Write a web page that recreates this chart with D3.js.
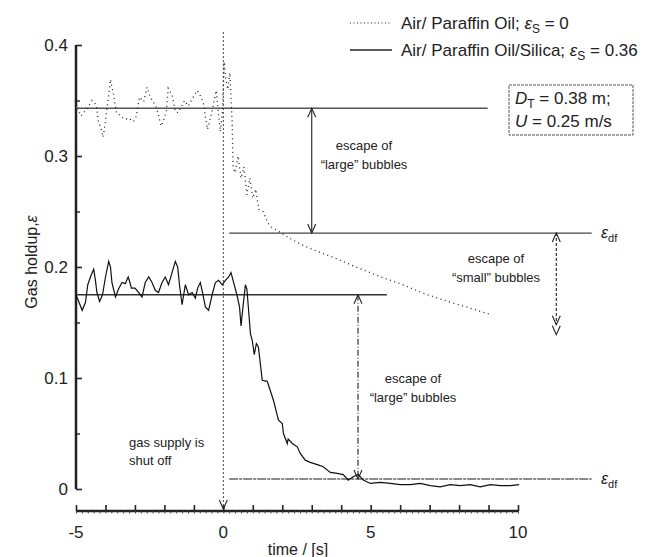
<!DOCTYPE html>
<html>
<head>
<meta charset="utf-8">
<script src="https://cdn.jsdelivr.net/npm/d3@7"></script>
<style>
  body { margin: 0; background: #fff; }
  svg { font-family: "Liberation Sans", Arial, sans-serif; }
  .small { font-size: 13px; }
</style>
</head>
<body>
<svg id="chart" width="662" height="557"></svg>
<script>
// Air / paraffin oil (dotted)
var dotT = [-4.95, -4.83, -4.62, -4.46, -4.31, -4.24, -4.15, -4.08, -4.0, -3.9, -3.83, -3.78, -3.73, -3.63, -3.47, -3.36, -3.2, -3.05, -2.95, -2.85, -2.7, -2.59, -2.5, -2.42, -2.31, -2.21, -2.11, -2.04, -1.93, -1.87, -1.74, -1.63, -1.53, -1.32, -1.19, -1.02, -0.89, -0.81, -0.68, -0.59, -0.54, -0.42, -0.31, -0.24, -0.17, -0.1, -0.03,
            0.03, 0.08, 0.15, 0.22, 0.3, 0.33, 0.4, 0.5, 0.6, 0.7, 0.8, 0.9, 1.0, 1.1, 1.2, 1.35, 1.5, 1.63, 2.0, 2.51, 3.0, 3.8, 4.5, 5.36, 6.0, 6.82, 7.5, 8.25, 9.09];
var dotV = [0.343, 0.336, 0.343, 0.35, 0.346, 0.331, 0.325, 0.317, 0.331, 0.353, 0.369, 0.362, 0.356, 0.339, 0.336, 0.333, 0.334, 0.331, 0.336, 0.353, 0.349, 0.362, 0.355, 0.35, 0.346, 0.338, 0.327, 0.331, 0.341, 0.361, 0.355, 0.34, 0.339, 0.35, 0.345, 0.353, 0.359, 0.356, 0.348, 0.332, 0.324, 0.336, 0.35, 0.359, 0.339, 0.322, 0.34,
            0.385, 0.37, 0.36, 0.375, 0.33, 0.29, 0.285, 0.30, 0.28, 0.29, 0.265, 0.28, 0.262, 0.27, 0.252, 0.25, 0.24, 0.236, 0.23, 0.222, 0.216, 0.208, 0.2, 0.191, 0.185, 0.176, 0.17, 0.164, 0.157];

// Air / paraffin oil / silica (solid)
var solT = [-5.0, -4.79, -4.68, -4.6, -4.51, -4.4, -4.34, -4.29, -4.2, -4.1, -4.0, -3.89, -3.83, -3.78, -3.66, -3.56, -3.44, -3.33, -3.23, -3.17, -3.12, -3.0, -2.87, -2.76, -2.65, -2.53, -2.42, -2.31, -2.2, -2.08, -1.97, -1.86, -1.74, -1.63, -1.55, -1.48, -1.4, -1.29, -1.18, -1.06, -0.95, -0.87, -0.78, -0.69, -0.61, -0.5, -0.38, -0.27, -0.16, -0.04,
            0.07, 0.18, 0.26, 0.35, 0.46, 0.55, 0.6, 0.67, 0.75, 0.8, 0.86, 0.92, 0.98, 1.05, 1.12, 1.19, 1.32, 1.49, 1.59, 1.7, 1.87, 2.0, 2.04, 2.17, 2.2, 2.34, 2.51, 2.61, 2.78, 2.95, 3.19, 3.39, 3.63, 3.87, 4.07, 4.24, 4.41, 4.58, 4.75, 4.99, 5.33, 5.67, 6.0, 6.35, 6.68, 7.02, 7.36, 7.7, 8.04, 8.38, 8.72, 9.06, 9.4, 9.74, 10.04];
var solV = [0.175, 0.161, 0.168, 0.184, 0.191, 0.198, 0.188, 0.177, 0.169, 0.175, 0.191, 0.205, 0.2, 0.186, 0.173, 0.18, 0.186, 0.185, 0.191, 0.186, 0.181, 0.181, 0.177, 0.173, 0.186, 0.191, 0.186, 0.179, 0.177, 0.186, 0.191, 0.184, 0.195, 0.205, 0.2, 0.182, 0.166, 0.184, 0.175, 0.177, 0.172, 0.181, 0.186, 0.175, 0.164, 0.161, 0.175, 0.186, 0.188, 0.184,
            0.188, 0.191, 0.195, 0.186, 0.175, 0.164, 0.147, 0.165, 0.184, 0.18, 0.16, 0.14, 0.134, 0.121, 0.131, 0.128, 0.098, 0.097, 0.089, 0.08, 0.062, 0.059, 0.05, 0.041, 0.045, 0.041, 0.038, 0.032, 0.026, 0.024, 0.022, 0.02, 0.015, 0.014, 0.013, 0.008, 0.011, 0.013, 0.008, 0.005, 0.006, 0.005, 0.004, 0.004, 0.005, 0.003, 0.002, 0.004, 0.003, 0.004, 0.002, 0.004, 0.003, 0.003, 0.004];

var yTicks = [0, 0.1, 0.2, 0.3, 0.4];
var yTickLabels = ["0", "0.1", "0.2", "0.3", "0.4"];
var yMinor = [0.05, 0.15, 0.25, 0.35];
var xTicks = [-5, 0, 5, 10];

// reference levels
var meanOil = 0.343, meanSilica = 0.175;
var dfOil = 0.2306, dfSilica = 0.009;

var svg = d3.select("#chart");
var x = d3.scaleLinear().domain([-5, 10]).range([76, 518]);
var y = d3.scaleLinear().domain([0, 0.4]).range([489, 45]);
var ink = "#222";

// y axis
var yAxis = d3.axisRight(y).tickValues(yTicks).tickSize(6).tickFormat("");
var gy = svg.append("g").attr("transform", "translate(" + x(-5) + ",0)").call(yAxis);
gy.select(".domain").attr("stroke", ink).attr("stroke-width", 2.5).attr("d", "M0," + y(0) + "V" + y(0.4));
gy.selectAll(".tick line").attr("stroke", ink).attr("stroke-width", 1.6);
var gyMinor = svg.append("g").attr("transform", "translate(" + x(-5) + ",0)")
  .call(d3.axisRight(y).tickValues(yMinor).tickSize(4).tickFormat(""));
gyMinor.select(".domain").remove();
gyMinor.selectAll(".tick line").attr("stroke", ink).attr("stroke-width", 1.4);
svg.selectAll(".ylab").data(yTicks).enter().append("text")
  .attr("x", 68).attr("y", function(d) { return y(d) + 6; })
  .attr("text-anchor", "end").attr("font-size", 17).attr("fill", ink)
  .text(function(d, i) { return yTickLabels[i]; });

// x axis (sits below the zero line)
var axisY = 511;
var gx = svg.append("g").attr("transform", "translate(0," + axisY + ")")
  .call(d3.axisTop(x).tickValues(d3.range(-5, 11, 1)).tickSize(6).tickFormat(""));
gx.select(".domain").attr("stroke", ink).attr("stroke-width", 2.5).attr("d", "M" + x(-5) + ",0H" + x(10));
gx.selectAll(".tick line").attr("stroke", ink).attr("stroke-width", 1.6);
var gxMinor = svg.append("g").attr("transform", "translate(0," + axisY + ")")
  .call(d3.axisBottom(x).tickValues(d3.range(-5, 10.01, 0.2)).tickSize(2.5).tickFormat(""));
gxMinor.select(".domain").remove();
gxMinor.selectAll(".tick line").attr("stroke", "#444").attr("stroke-width", 1);
svg.selectAll(".xlab").data(xTicks).enter().append("text")
  .attr("x", function(d) { return x(d); }).attr("y", 538)
  .attr("text-anchor", "middle").attr("font-size", 17).attr("fill", ink)
  .text(function(d) { return d; });
svg.append("text").attr("x", 298).attr("y", 555).attr("text-anchor", "middle")
  .attr("font-size", 16).attr("fill", ink).text("time / [s]");

var yl = svg.append("text").attr("transform", "translate(37,262) rotate(-90)")
  .attr("text-anchor", "middle").attr("font-size", 16).attr("fill", ink);
yl.append("tspan").text("Gas holdup,");
yl.append("tspan").attr("font-style", "italic").text("ε");

// reference lines
function hline(v, t0, t1, dash, col) {
  svg.append("line").attr("x1", x(t0)).attr("x2", x(t1)).attr("y1", y(v)).attr("y2", y(v))
    .attr("stroke", col).attr("stroke-width", 1.3).attr("stroke-dasharray", dash);
}
hline(meanOil, -5, 8.97, null, "#555");
hline(meanSilica, -5, 5.55, null, "#333");
hline(dfOil, 0.2, 12.5, null, "#444");
hline(dfSilica, 0.2, 12.5, "9,1,3,1", "#666");

// shut-off marker
svg.append("line").attr("x1", x(0)).attr("x2", x(0)).attr("y1", 32).attr("y2", axisY - 2)
  .attr("stroke", "#444").attr("stroke-width", 1).attr("stroke-dasharray", "2,2");

function head(px, py, dir) {
  svg.append("path")
    .attr("d", "M" + (px - 4) + "," + (py - 9 * dir) + "L" + px + "," + py + "L" + (px + 4) + "," + (py - 9 * dir))
    .attr("fill", "none").attr("stroke", ink).attr("stroke-width", 1.1);
}
function varrow(t, v0, v1, dash) {
  svg.append("line").attr("x1", x(t)).attr("x2", x(t)).attr("y1", y(v0)).attr("y2", y(v1))
    .attr("stroke", ink).attr("stroke-width", 1.1).attr("stroke-dasharray", dash);
  head(x(t), y(v0), -1);
  head(x(t), y(v1), 1);
}
head(x(0), axisY - 2, 1);
varrow(3.0, meanOil, dfOil, null);
varrow(4.57, meanSilica, dfSilica, "6,2,1,2");
varrow(11.3, dfOil, 0.148, "3,2");
head(x(11.3), y(0.139), 1);

// series
var line = d3.line().x(function(d) { return x(d[0]); }).y(function(d) { return y(d[1]); });
svg.append("path").attr("d", line(d3.zip(dotT, dotV)))
  .attr("fill", "none").attr("stroke", "#222").attr("stroke-width", 1.3).attr("stroke-dasharray", "1,3.5");
svg.append("path").attr("d", line(d3.zip(solT, solV)))
  .attr("fill", "none").attr("stroke", "#111").attr("stroke-width", 1.2);

// annotations
function label2(cx, cy, l1, l2) {
  svg.append("text").attr("class", "small").attr("x", cx).attr("y", cy).attr("text-anchor", "middle").attr("fill", ink).text(l1);
  svg.append("text").attr("class", "small").attr("x", cx).attr("y", cy + 19).attr("text-anchor", "middle").attr("fill", ink).text(l2);
}
label2(364, 150, "escape of", "\u201clarge\u201d bubbles");
label2(496, 263, "escape of", "\u201csmall\u201d bubbles");
label2(413, 383, "escape of", "\u201clarge\u201d bubbles");
svg.append("text").attr("class", "small").attr("x", 129).attr("y", 447).attr("fill", ink).text("gas supply is");
svg.append("text").attr("class", "small").attr("x", 129).attr("y", 465).attr("fill", ink).text("shut off");

function epsDf(v) {
  var t = svg.append("text").attr("x", 601).attr("y", y(v) + 5).attr("font-size", 16).attr("fill", ink);
  t.append("tspan").attr("font-style", "italic").text("ε");
  t.append("tspan").attr("font-size", 11).attr("dy", 4).text("df");
}
epsDf(dfOil);
epsDf(dfSilica);

// legend
var leg = [{ name: "Air/ Paraffin Oil; ", val: " = 0", dash: "1,2.5", w: 1 },
           { name: "Air/ Paraffin Oil/Silica; ", val: " = 0.36", dash: null, w: 1.6 }];
leg.forEach(function(d, i) {
  var ly = 23 + i * 27;
  svg.append("line").attr("x1", 350).attr("x2", 392).attr("y1", ly).attr("y2", ly)
    .attr("stroke", ink).attr("stroke-width", d.w).attr("stroke-dasharray", d.dash);
  var t = svg.append("text").attr("x", 401).attr("y", ly + 6).attr("font-size", 17).attr("fill", ink);
  t.append("tspan").text(d.name);
  t.append("tspan").attr("font-style", "italic").text("ε");
  t.append("tspan").attr("font-size", 12).attr("dy", 4).text("S");
  t.append("tspan").attr("dy", -4).text(d.val);
});

// condition box
svg.append("rect").attr("x", 509).attr("y", 85).attr("width", 124).attr("height", 50)
  .attr("fill", "none").attr("stroke", "#555").attr("stroke-width", 1).attr("stroke-dasharray", "3,1");
var b1 = svg.append("text").attr("x", 515).attr("y", 104).attr("font-size", 17).attr("fill", ink);
b1.append("tspan").attr("font-style", "italic").text("D");
b1.append("tspan").attr("font-size", 12).attr("dy", 4).text("T");
b1.append("tspan").attr("dy", -4).text(" = 0.38 m;");
var b2 = svg.append("text").attr("x", 515).attr("y", 127).attr("font-size", 17).attr("fill", ink);
b2.append("tspan").attr("font-style", "italic").text("U");
b2.append("tspan").text(" = 0.25 m/s");
</script>
</body>
</html>
